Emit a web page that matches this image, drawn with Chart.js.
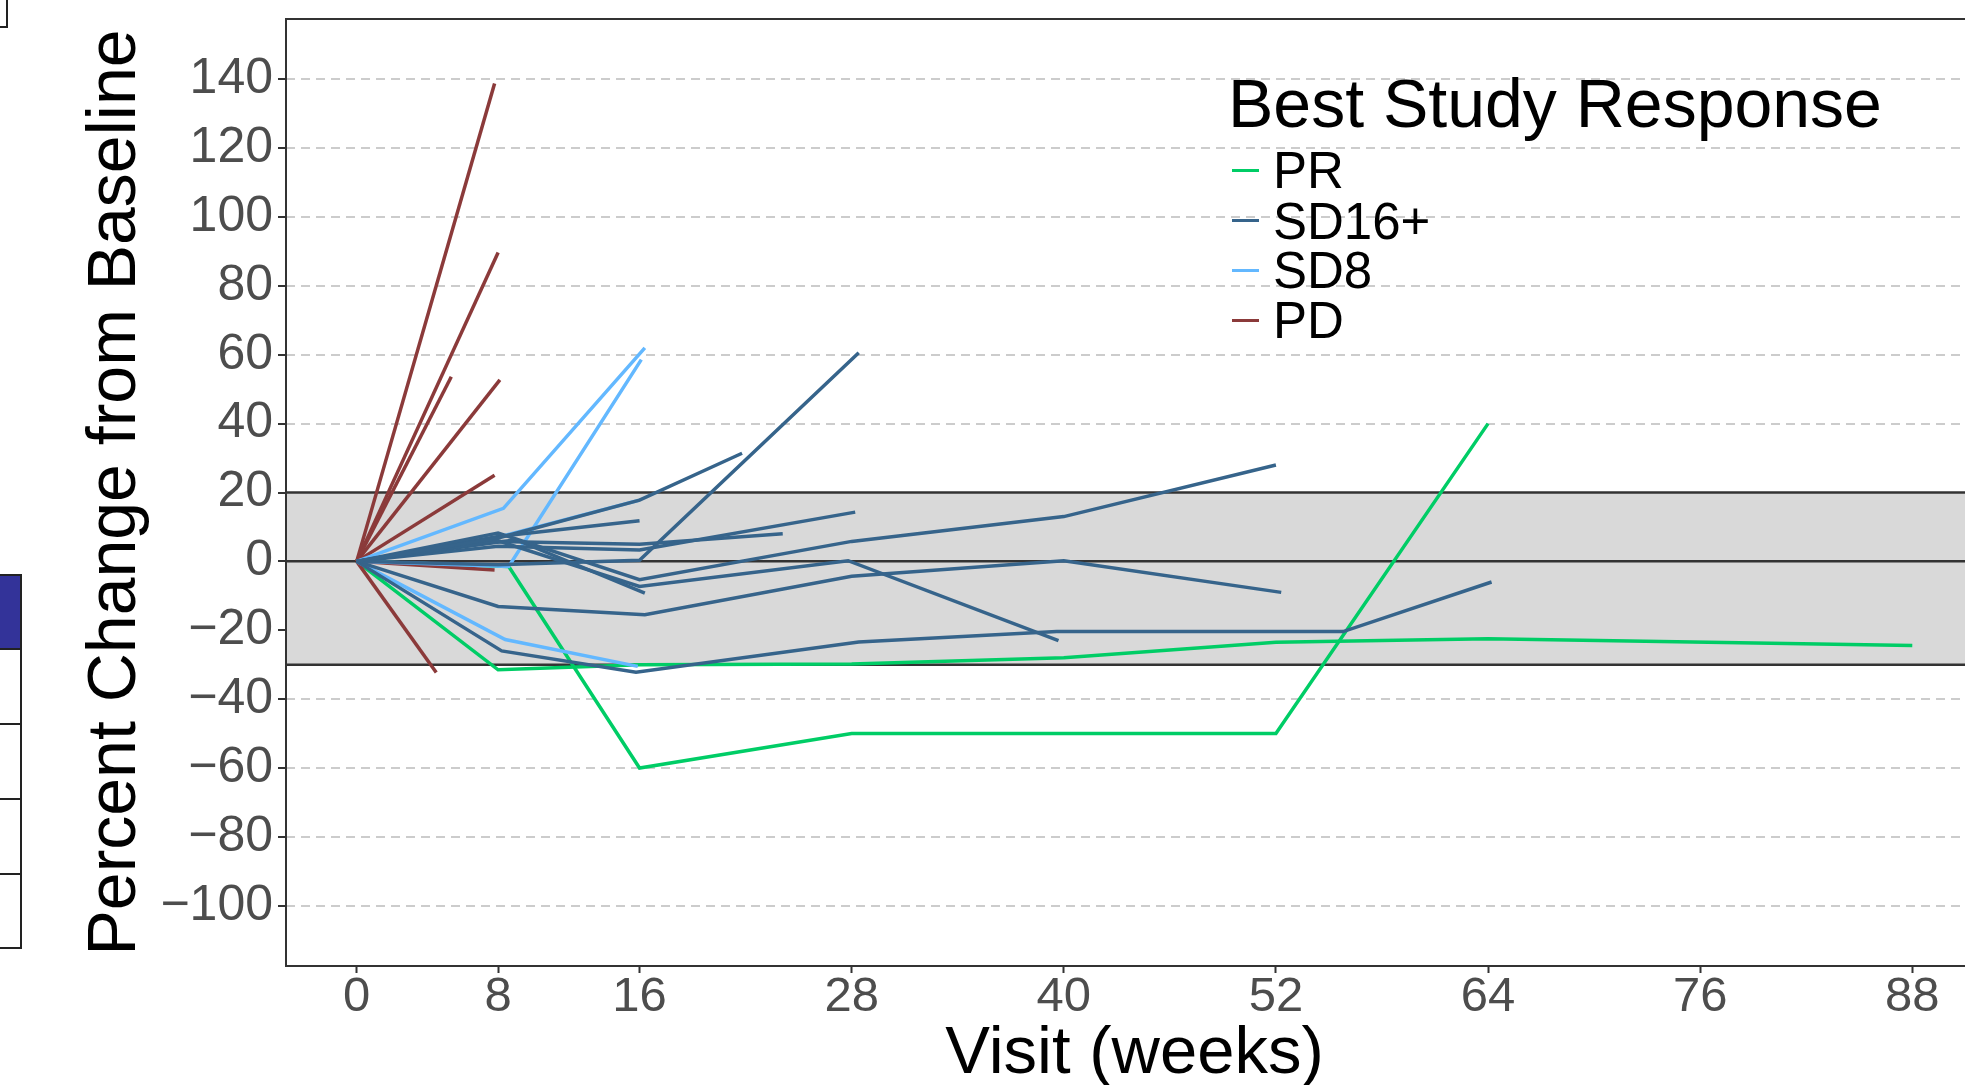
<!DOCTYPE html>
<html>
<head>
<meta charset="utf-8">
<title>Best Study Response</title>
<script src="https://cdn.jsdelivr.net/npm/chart.js@4.4.1/dist/chart.umd.min.js"></script>
<style>
  html, body { margin: 0; padding: 0; width: 1965px; height: 1085px; overflow: hidden; background: #fff; }
  #wrap { position: absolute; left: 0; top: 0; width: 1985px; height: 1110px; }
  .cell { position: absolute; left: -2px; width: 24px; box-sizing: border-box; border: 2px solid #222; }
  .lg { position: absolute; font-family: 'Liberation Sans', Arial, sans-serif; color: #000; white-space: nowrap; }
  .lg-title { font-size: 68px; line-height: 68px; }
  .lg-item { font-size: 51px; line-height: 51px; }
  .swatch { position: absolute; width: 27px; height: 3px; }
</style>
</head>
<body>
<div id="wrap"><canvas id="responseChart" width="1985" height="1110"></canvas></div>

<!-- edge of the neighbouring table -->
<div class="cell" style="top:-2px; width:10px; height:30px;"></div>
<div class="cell" style="top:574px; height:76px; background:#333399;"></div>
<div class="cell" style="top:648px; height:77px;"></div>
<div class="cell" style="top:723px; height:77px;"></div>
<div class="cell" style="top:798px; height:77px;"></div>
<div class="cell" style="top:873px; height:76px;"></div>

<!-- legend -->
<div class="lg lg-title" style="left:1228px; top:69px;">Best Study Response</div>
<div class="swatch" style="left:1232px; top:169px; background:#00cd66;"></div>
<div class="lg lg-item" style="left:1273px; top:145px;">PR</div>
<div class="swatch" style="left:1232px; top:219px; background:#36648b;"></div>
<div class="lg lg-item" style="left:1273px; top:196px;">SD16+</div>
<div class="swatch" style="left:1232px; top:269px; background:#63b8ff;"></div>
<div class="lg lg-item" style="left:1273px; top:245px;">SD8</div>
<div class="swatch" style="left:1232px; top:319px; background:#8b3a3a;"></div>
<div class="lg lg-item" style="left:1273px; top:295px;">PD</div>

<script>
// axis ticks
const tickWeeks = [0, 8, 16, 28, 40, 52, 64, 76, 88];
const tickPct = [-100, -80, -60, -40, -20, 0, 20, 40, 60, 80, 100, 120, 140];

// shaded band (-30 .. 20) and its reference lines
const bandLimits = [-30, 20];
const refLines = [20, 0, -30];

// one entry per patient: [week, percent change]
const prLines = [
  [[0, 0], [8, -31.5], [16, -30], [28, -29.8], [40, -28], [52, -23.5], [64, -22.5], [88, -24.4]],
  [[0, 0], [8.6, -1.5], [16, -60], [28, -50], [40, -50], [52, -50], [64, 40]]
];

const sd16Lines = [
  [[0, 0], [8, 6.8], [16, 17.8], [21.8, 31.4]],
  [[0, 0], [8, -1], [16, 0.3], [28.4, 60.6]],
  [[0, 0], [8, 8.2], [16, -5.3], [28, 5.8], [40, 13], [52, 28]],
  [[0, 0], [8, 6], [16, -7.3], [27.8, 0.2], [39.7, -23]],
  [[0, 0], [9, 6.3], [16.3, -9.2]],
  [[0, 0], [8, -13.1], [16.3, -15.5], [28, -4.3], [40, 0.2], [52.3, -9]],
  [[0, 0], [8.2, -26], [15.8, -32.2], [28.4, -23.4], [39.6, -20.4], [55.8, -20.4], [64.2, -6]],
  [[0, 0], [8, 7.2], [16, 11.8]],
  [[0, 0], [8, 4.4], [16, 3.3], [28.2, 14.3]],
  [[0, 0], [8, 5.8], [16, 5], [24.1, 8]]
];

const sd8Lines = [
  [[0, 0], [8.3, 15.4], [16.3, 62]],
  [[0, 0], [8.6, -1.5], [16.1, 58.6]],
  [[0, 0], [8, 7], [16, 17.8]],
  [[0, 0], [8.4, -22.7], [15.9, -30.5]]
];

const pdLines = [
  [[0, 0], [7.8, 138.8]],
  [[0, 0], [8, 89.7]],
  [[0, 0], [5.35, 53.6]],
  [[0, 0], [8.1, 52.7]],
  [[0, 0], [7.8, 25]],
  [[0, 0], [7.8, -2.5]],
  [[0, 0], [4.5, -32.3]]
];

const datasets = [];
function addGroup(lines, color) {
  lines.forEach(pts => {
    datasets.push({
      data: pts.map(([x, y]) => ({ x, y })),
      borderColor: color,
      borderWidth: 3.5,
      pointRadius: 0,
      fill: false,
      tension: 0
    });
  });
}
addGroup(sd16Lines, '#36648b');
addGroup(sd8Lines, '#63b8ff');
addGroup(pdLines, '#8b3a3a');
addGroup(prLines, '#00cd66');

// grey band, reference lines and panel frame
const bandPlugin = {
  id: 'band',
  beforeDatasetsDraw(chart) {
    const { ctx, chartArea: a, scales: { y } } = chart;
    const yHi = y.getPixelForValue(bandLimits[1]);
    const yLo = y.getPixelForValue(bandLimits[0]);
    ctx.save();
    ctx.fillStyle = '#d9d9d9';
    ctx.fillRect(a.left, yHi, a.right - a.left, yLo - yHi);
    ctx.strokeStyle = '#333';
    ctx.lineWidth = 2.5;
    refLines.forEach(v => {
      const py = y.getPixelForValue(v);
      ctx.beginPath();
      ctx.moveTo(a.left, py);
      ctx.lineTo(a.right, py);
      ctx.stroke();
    });
    ctx.lineWidth = 2;
    ctx.strokeRect(a.left, a.top, a.right - a.left, a.bottom - a.top);
    ctx.restore();
  }
};

const font = 'Liberation Sans';

const ctx = document.getElementById('responseChart').getContext('2d');
const responseChart = new Chart(ctx, {
  type: 'line',
  data: { datasets: datasets },
  plugins: [bandPlugin],
  options: {
    responsive: false,
    devicePixelRatio: 1,
    animation: false,
    layout: { padding: { top: 19, right: 2, left: 0, bottom: 0 } },
    plugins: {
      legend: { display: false },
      tooltip: { enabled: false }
    },
    scales: {
      x: {
        type: 'linear',
        min: -4,
        max: 92,
        afterBuildTicks: s => { s.ticks = tickWeeks.map(v => ({ value: v })); },
        afterFit: s => { s.height = 144; s.paddingLeft = 0; s.paddingRight = 0; },
        grid: { drawOnChartArea: false, drawTicks: true, tickLength: 7, tickWidth: 2, tickColor: '#333' },
        border: { display: false },
        ticks: {
          color: '#4d4d4d',
          font: { family: font, size: 49, lineHeight: 1 },
          padding: 0,
          maxRotation: 0,
          autoSkip: false
        },
        title: {
          display: true,
          text: 'Visit (weeks)',
          color: '#000',
          font: { family: font, size: 67 },
          padding: { top: 0, bottom: 15 }
        }
      },
      y: {
        min: -117.5,
        max: 157.5,
        afterBuildTicks: s => { s.ticks = tickPct.map(v => ({ value: v })); },
        afterFit: s => { s.width = 286; s.paddingTop = 0; s.paddingBottom = 0; },
        grid: { color: '#cccccc', lineWidth: 2, tickColor: '#333', tickWidth: 2, tickLength: 8, tickBorderDash: [] },
        border: { display: false, dash: [9, 6] },
        ticks: {
          color: '#4d4d4d',
          font: { family: font, size: 50 },
          padding: 5,
          autoSkip: false,
          callback: v => String(v).replace('-', '\u2212')
        },
        title: {
          display: true,
          text: 'Percent Change from Baseline',
          color: '#000',
          font: { family: font, size: 68 },
          padding: { top: 75, bottom: 0 }
        }
      }
    }
  }
});
</script>
</body>
</html>
